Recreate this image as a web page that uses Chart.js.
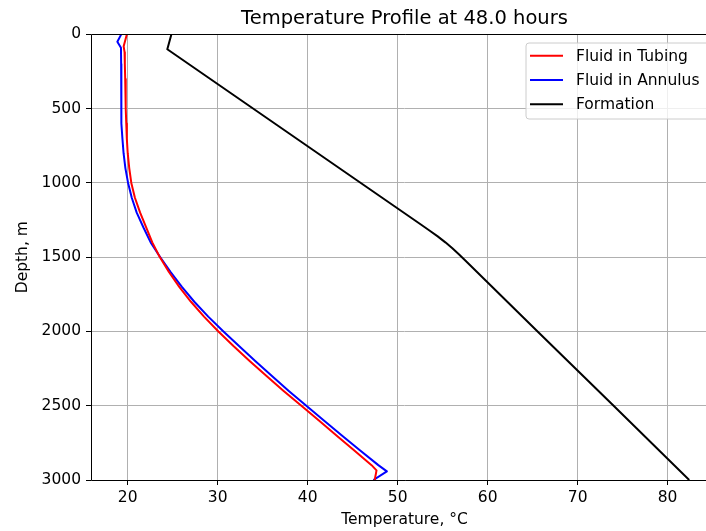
<!DOCTYPE html>
<html>
<head>
<meta charset="utf-8">
<script src="https://cdn.jsdelivr.net/npm/chart.js@4.4.1/dist/chart.umd.min.js"></script>
<style>
  html, body { margin: 0; padding: 0; overflow: hidden; background: #ffffff; }
  #wrap { width: 722px; height: 531px; }
</style>
</head>
<body>
<div id="wrap"><canvas id="c" width="722" height="531"></canvas></div>
<script>
// ---- data ----
const tubingDepth = [0, 80, 120, 200, 300, 400, 500, 600, 700, 800, 900, 1000, 1100, 1200, 1300, 1400, 1480, 1500, 1600, 1700, 1800, 1900, 2000, 2100, 2200, 2300, 2400, 2500, 2600, 2700, 2800, 2900, 2935, 3000];
const tubingTemp  = [19.9, 19.55, 19.65, 19.68, 19.72, 19.76, 19.8, 19.84, 19.9, 20.0, 20.17, 20.4, 20.8, 21.38, 22.05, 22.73, 23.4, 23.58, 24.58, 25.73, 27.03, 28.48, 30.08, 31.78, 33.58, 35.43, 37.33, 39.3, 41.25, 43.2, 45.15, 47.1, 47.65, 47.45];

const annulusDepth = [0, 50, 90, 200, 300, 400, 500, 600, 700, 800, 900, 1000, 1100, 1200, 1300, 1400, 1480, 1500, 1600, 1700, 1800, 1900, 2000, 2100, 2200, 2300, 2400, 2500, 2600, 2700, 2800, 2900, 2942, 3000];
const annulusTemp  = [19.28, 18.85, 19.25, 19.27, 19.28, 19.28, 19.29, 19.33, 19.41, 19.54, 19.74, 20.04, 20.45, 21.0, 21.75, 22.55, 23.4, 23.62, 24.77, 26.02, 27.4, 28.95, 30.64, 32.4, 34.2, 36.03, 37.9, 39.85, 41.8, 43.8, 45.8, 47.85, 48.8, 47.3];

const formationDepth = [0, 100, 1280, 1320, 1360, 1400, 1440, 1480, 1520, 2000, 2500, 3000];
const formationTemp  = [24.85, 24.4, 52.58, 53.53, 54.45, 55.3, 56.08, 56.8, 57.49, 65.55, 74.0, 82.4];

const xTicks = [20, 30, 40, 50, 60, 70, 80];
const yTicks = [0, 500, 1000, 1500, 2000, 2500, 3000];
const seriesLabels = ['Fluid in Tubing', 'Fluid in Annulus', 'Formation'];
const titleText = 'Temperature Profile at 48.0 hours';
const xLabel = 'Temperature, °C';
const yLabel = 'Depth, m';

// ---- build ----
const FONT = 'DejaVu Sans';
const toPts = (xs, ys) => xs.map((d, i) => ({ x: ys[i], y: d }));

const framePlugin = {
  id: 'frame',
  afterDatasetsDraw(chart) {
    const { ctx, chartArea: a } = chart;
    const L = Math.round(a.left) + 0.5, T = Math.round(a.top) + 0.5, B = Math.round(a.bottom) + 0.5;
    ctx.save();
    ctx.strokeStyle = '#000';
    ctx.lineWidth = 1;
    ctx.beginPath();
    ctx.moveTo(L, B);
    ctx.lineTo(L, T);
    ctx.lineTo(a.right + 2, T);
    ctx.moveTo(L, B);
    ctx.lineTo(a.right + 2, B);
    ctx.stroke();
    ctx.restore();
  }
};

const legendPlugin = {
  id: 'customLegend',
  afterDraw(chart) {
    const { ctx, chartArea: a } = chart;
    const x0 = 526, y0 = 43, x1 = a.right - 7.5, y1 = 119;
    ctx.save();
    ctx.beginPath();
    const r = 3;
    ctx.moveTo(x0 + r, y0);
    ctx.lineTo(x1 - r, y0); ctx.quadraticCurveTo(x1, y0, x1, y0 + r);
    ctx.lineTo(x1, y1 - r); ctx.quadraticCurveTo(x1, y1, x1 - r, y1);
    ctx.lineTo(x0 + r, y1); ctx.quadraticCurveTo(x0, y1, x0, y1 - r);
    ctx.lineTo(x0, y0 + r); ctx.quadraticCurveTo(x0, y0, x0 + r, y0);
    ctx.closePath();
    ctx.fillStyle = 'rgba(255,255,255,0.8)';
    ctx.fill();
    ctx.strokeStyle = '#cccccc';
    ctx.lineWidth = 1;
    ctx.stroke();
    const rows = [55.7, 80, 104.3];
    chart.data.datasets.forEach((ds, i) => {
      const y = rows[i];
      ctx.strokeStyle = ds.borderColor;
      ctx.lineWidth = 2;
      ctx.beginPath();
      ctx.moveTo(530, y);
      ctx.lineTo(563, y);
      ctx.stroke();
      ctx.fillStyle = '#000';
      ctx.font = '15.5px "' + FONT + '"';
      ctx.textBaseline = 'middle';
      ctx.textAlign = 'left';
      ctx.fillText(ds.label, 576, y + 1);
    });
    ctx.restore();
  }
};

const colors = ['#ff0000', '#0000ff', '#000000'];
const ds = (label, xs, ys, color) => ({
  label, data: toPts(xs, ys), borderColor: color, backgroundColor: color,
  borderWidth: 2, pointRadius: 0, showLine: true, tension: 0, fill: false,
  borderJoinStyle: 'round'
});

new Chart(document.getElementById('c'), {
  type: 'scatter',
  data: {
    datasets: [
      ds(seriesLabels[0], tubingDepth, tubingTemp, colors[0]),
      ds(seriesLabels[1], annulusDepth, annulusTemp, colors[1]),
      ds(seriesLabels[2], formationDepth, formationTemp, colors[2])
    ]
  },
  options: {
    responsive: false,
    animation: false,
    devicePixelRatio: 1,
    layout: { padding: { left: 0, right: 4, top: 0, bottom: 0 } },
    plugins: {
      legend: { display: false },
      tooltip: { enabled: false },
      title: {
        display: true, text: titleText, fullSize: false, color: '#000',
        font: { family: FONT, size: 19.5, weight: 'normal' },
        padding: { top: 7, bottom: 4 }
      }
    },
    scales: {
      x: {
        type: 'linear', min: 15.92, max: 85.6,
        afterBuildTicks: s => { s.ticks = xTicks.map(v => ({ value: v })); },
        afterFit: s => { s.height = 51; },
        grid: { color: '#b0b0b0', lineWidth: 1, tickColor: '#000', tickLength: 5, drawTicks: true },
        border: { display: false },
        ticks: { color: '#000', font: { family: FONT, size: 15.5 }, padding: 4, maxRotation: 0 },
        title: { display: true, text: xLabel, color: '#000', font: { family: FONT, size: 15.5 }, padding: { top: 0, bottom: 2 } }
      },
      y: {
        type: 'linear', min: 0, max: 3000, reverse: true,
        afterBuildTicks: s => { s.ticks = yTicks.map(v => ({ value: v })); },
        afterFit: s => { s.width = 91; },
        grid: { color: '#b0b0b0', lineWidth: 1, tickColor: '#000', tickLength: 5, drawTicks: true },
        border: { display: false },
        ticks: { color: '#000', font: { family: FONT, size: 15.5 }, padding: 5, callback: v => String(v) },
        title: { display: true, text: yLabel, color: '#000', font: { family: FONT, size: 15.5 }, padding: { top: 14, bottom: 0 } }
      }
    }
  },
  plugins: [framePlugin, legendPlugin]
});
</script>
</body>
</html>
